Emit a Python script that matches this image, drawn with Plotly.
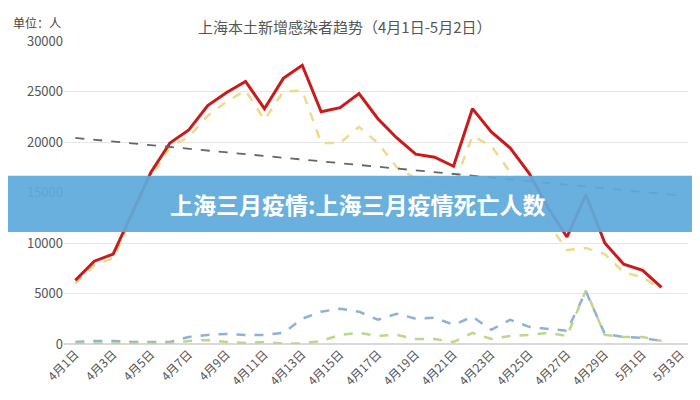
import plotly.graph_objects as go

days = ["4月%d日" % d for d in range(1, 31)] + ["5月1日", "5月2日", "5月3日"]

total = [6300, 8200, 8900, 13000, 17000, 19900, 21200, 23600, 24900, 26000,
         23300, 26300, 27600, 23000, 23400, 24800, 22300, 20400, 18800, 18500,
         17600, 23300, 21000, 19400, 16900, 13500, 10600, 14800, 10000, 7900,
         7300, 5600]
asymp = [6000, 7800, 8500, 12500, 16500, 19500, 20500, 22600, 24000, 25100,
         22200, 25000, 25100, 19900, 19900, 21500, 19900, 17500, 16400, 15900,
         15600, 20600, 19600, 17000, 15300, 12000, 9300, 9500, 8900, 7100,
         6600, 5400]
confirmed = [200, 300, 300, 200, 200, 200, 700, 900, 1000, 900,
             900, 1100, 2500, 3200, 3500, 3200, 2400, 3000, 2500, 2600,
             1900, 2700, 1400, 2400, 1700, 1500, 1300, 5200, 1000, 700,
             600, 300]
other = [50, 50, 50, 50, 50, 50, 300, 400, 200, 100,
         200, 50, 50, 300, 900, 1100, 800, 900, 500, 500,
         200, 1100, 500, 800, 900, 1100, 800, 5300, 900, 700,
         700, 300]
trend_x = ["4月1日", "5月3日"]
trend_y = [20400, 14700]

fig = go.Figure()
fig.add_trace(go.Scatter(x=days, y=confirmed, mode="lines",
                         line=dict(color="#8fb0d8", width=2.5, dash="dash")))
fig.add_trace(go.Scatter(x=days, y=other, mode="lines",
                         line=dict(color="#bcd68a", width=2.5, dash="dash")))
fig.add_trace(go.Scatter(x=days, y=asymp, mode="lines",
                         line=dict(color="#f0d98a", width=2.5, dash="dash")))
fig.add_trace(go.Scatter(x=days, y=total, mode="lines",
                         line=dict(color="#cc1a1a", width=3)))
fig.add_trace(go.Scatter(x=trend_x, y=trend_y, mode="lines",
                         line=dict(color="#666666", width=1.8, dash="dash")))

fig.add_shape(type="rect", xref="paper", yref="paper", x0=-0.2, x1=1.2,
              y0=0.37, y1=0.555, fillcolor="rgba(95,170,220,0.93)", line_width=0,
              layer="above")
fig.add_annotation(text="<b>上海三月疫情:上海三月疫情死亡人数</b>", xref="paper", yref="paper",
                   x=0.47, y=0.463, showarrow=False,
                   font=dict(size=23, color="white", family="Noto Sans CJK SC"))
fig.add_annotation(text="上海本土新增感染者趋势（4月1日-5月2日）", xref="paper", yref="paper",
                   x=0.45, y=1.09, showarrow=False,
                   font=dict(size=15, color="#555555", family="Noto Sans CJK SC"))
fig.add_annotation(text="单位：人", xref="paper", yref="paper",
                   x=-0.085, y=1.095, showarrow=False, xanchor="left",
                   font=dict(size=12, color="#444444", family="Noto Sans CJK SC"))

fig.update_layout(
    width=700, height=400, showlegend=False,
    margin=dict(l=56, r=20, t=33, b=64),
    plot_bgcolor="white", paper_bgcolor="white",
    font=dict(family="Noto Sans CJK SC", color="#555555", size=12),
    xaxis=dict(type="category", tickangle=-45, tickvals=days[::2],
               showgrid=False, range=[-0.6, 32.4], showline=False),
    yaxis=dict(range=[0, 30000], dtick=5000, gridcolor="#e6e6e6",
               tickformat="d", tickfont=dict(size=13),
               zeroline=True, zerolinecolor="#d9d9d9"),
)
fig.write_html("out.html")
